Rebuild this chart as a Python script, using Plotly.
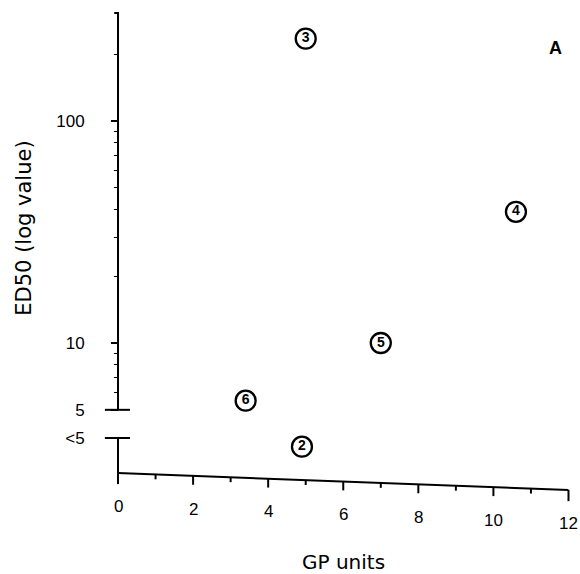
import numpy as np
import plotly.graph_objects as go

# ---------------- data ----------------
compound = ["2", "3", "4", "5", "6"]
gp_units = [4.9, 5.0, 10.6, 7.0, 3.4]
ed50 = ["<5", 235, 39, 10, 5.5]          # "<5" = below detection (plotted in the broken band)

y_tick_values = [100, 10, 5]
y_tick_text = ["100", "10", "5"]
below_label = "<5"
y_minor_values = [6, 7, 8, 9, 20, 30, 40, 50, 60, 70, 80, 90, 200]
x_tick_values = [0, 2, 4, 6, 8, 10, 12]
x_minor_values = [1, 3, 5, 7, 9, 11]

# ---------------- layout constants (log10 units on y) ----------------
LT5_TICK = 0.572      # position of the "<5" band tick
LT5_POINT = 0.533     # position of points in the "<5" band
Y_TOP = 2.486         # top of the y axis line
BASE0 = 0.4144        # x axis height at x = 0 (the scanned axis is slightly skewed)
SLOPE = -0.0064       # skew of the x axis per GP unit
FONT = "Liberation Sans, Arial, sans-serif"
TITLE_FONT = "DejaVu Sans, sans-serif"


def ypos(v):
    return LT5_POINT if v == "<5" else float(np.log10(v))


def base(x):
    return BASE0 + SLOPE * x


# ---------------- axis drawing ----------------
ax_x, ax_y = [], []


def seg(xs, ys):
    ax_x.extend(xs + [None])
    ax_y.extend(ys + [None])


l5 = float(np.log10(5))
seg([-0.1, 0, 0], [Y_TOP, Y_TOP, l5])            # upper y-axis segment
seg([-0.35, 0.32], [l5, l5])                       # cap at 5
seg([-0.35, 0.32], [LT5_TICK, LT5_TICK])           # cap at <5
seg([0, 0], [LT5_TICK, base(0) - 0.05])            # lower y-axis segment
seg([0, 12], [base(0), base(12)])                  # x axis (skewed)
for xv in x_tick_values[1:]:
    seg([xv, xv], [base(xv), base(xv) - (0.05 if xv == 12 else 0.04)])
for xv in x_minor_values:
    seg([xv, xv], [base(xv), base(xv) - 0.022])

fig = go.Figure()
fig.add_trace(go.Scatter(x=ax_x, y=ax_y, mode="lines",
                         line=dict(color="black", width=2),
                         hoverinfo="skip", cliponaxis=False))

fig.add_trace(go.Scatter(
    x=gp_units, y=[ypos(v) for v in ed50],
    mode="markers+text", text=compound, textposition="middle center",
    textfont=dict(family=FONT, size=14, color="black", weight="bold"),
    marker=dict(symbol="circle", size=20, color="white",
                line=dict(color="black", width=2.3)),
    cliponaxis=False))

annotations = []
# x tick labels follow the skewed axis
for xv in x_tick_values:
    annotations.append(dict(x=xv, y=base(xv) - 0.150, xref="x", yref="y",
                            text=str(xv), showarrow=False,
                            font=dict(family=FONT, size=17, color="black"),
                            xanchor="center", yanchor="middle"))
annotations.append(dict(x=6, y=0.0135, xref="x", yref="y", text="GP units",
                        showarrow=False, font=dict(family=TITLE_FONT, size=20, color="black"),
                        xanchor="center", yanchor="middle"))
annotations.append(dict(x=-0.167, y=1.515, xref="paper", yref="y",
                        text="ED50 (log value)", textangle=-90, showarrow=False,
                        font=dict(family=TITLE_FONT, size=21, color="black"),
                        xanchor="center", yanchor="middle"))
annotations.append(dict(x=11.65, y=2.329, xref="x", yref="y", text="<b>A</b>",
                        showarrow=False, font=dict(family=FONT, size=18, color="black"),
                        xanchor="center", yanchor="middle"))

fig.update_layout(
    width=580, height=574,
    margin=dict(l=103, r=4, t=5, b=0),
    paper_bgcolor="white", plot_bgcolor="white",
    showlegend=False,
    annotations=annotations,
    xaxis=dict(range=[-0.4, 12.2], visible=False),
    yaxis=dict(
        range=[-0.0405, 2.5225], anchor="free", position=0.4 / 12.6,
        showline=False, showgrid=False, zeroline=False,
        tickmode="array",
        tickvals=[float(np.log10(v)) for v in y_tick_values] + [LT5_TICK],
        ticktext=y_tick_text + [below_label],
        ticks="outside", ticklen=7, tickwidth=1.5, tickcolor="black",
        ticklabelstandoff=23,
        tickfont=dict(family=FONT, size=17, color="black"),
        minor=dict(tickvals=[float(np.log10(v)) for v in y_minor_values],
                   ticks="outside", ticklen=4, tickwidth=1, tickcolor="black",
                   showgrid=False),
    ),
)

fig.write_html("out.html")
